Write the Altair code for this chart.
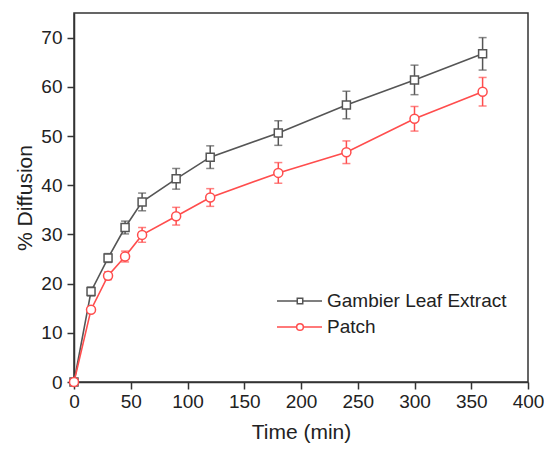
import altair as alt
import pandas as pd

time_min = [0, 15, 30, 45, 60, 90, 120, 180, 240, 300, 360]
gambier = [0, 18.4, 25.2, 31.4, 36.6, 41.3, 45.7, 50.6, 56.3, 61.4, 66.7]
gambier_err = [0, 0.9, 0.9, 1.3, 1.8, 2.1, 2.3, 2.5, 2.8, 3.0, 3.3]
patch = [0, 14.7, 21.6, 25.5, 29.9, 33.7, 37.5, 42.5, 46.7, 53.5, 59.0]
patch_err = [0, 0.5, 0.8, 1.1, 1.5, 1.8, 1.8, 2.1, 2.3, 2.5, 2.9]

series_names = ["Gambier Leaf Extract", "Patch"]
colors = ["#555555", "#ff4d4d"]
shapes = ["square", "circle"]

rows = []
for name, vals, errs in [(series_names[0], gambier, gambier_err), (series_names[1], patch, patch_err)]:
    for t, v, e in zip(time_min, vals, errs):
        rows.append({"time": t, "value": v, "lo": v - e, "hi": v + e, "series": name})
df = pd.DataFrame(rows)

FONT = "Liberation Sans"

x = alt.X("time:Q", scale=alt.Scale(domain=[0, 400], nice=False),
          axis=alt.Axis(title="Time (min)", values=list(range(0, 401, 25)),
                        labelExpr="datum.value % 50 === 0 ? datum.label : ''",
                        tickSize={"condition": {"test": "datum.value % 50 === 0", "value": 7}, "value": 4},
                        grid=False, labelFontSize=19, titleFontSize=21, labelPadding=3,
                        titlePadding=10, labelFlush=False, labelOverlap=False))
y = alt.Y("value:Q", scale=alt.Scale(domain=[0, 75], nice=False),
          axis=alt.Axis(title="% Diffusion", values=list(range(0, 71, 5)),
                        labelExpr="datum.value % 10 === 0 ? datum.label : ''",
                        tickSize={"condition": {"test": "datum.value % 10 === 0", "value": 7}, "value": 4},
                        grid=False, labelFontSize=19, titleFontSize=21, labelPadding=5,
                        titlePadding=5, labelFlush=False, labelOverlap=False))

color = alt.Color("series:N", scale=alt.Scale(domain=series_names, range=colors), legend=None)
shape = alt.Shape("series:N", scale=alt.Scale(domain=series_names, range=shapes), legend=None)
msize = alt.Size("series:N", scale=alt.Scale(domain=series_names, range=[64, 81]), legend=None)

base = alt.Chart(df)

lines = base.mark_line(strokeWidth=1.6).encode(x=x, y=y, color=color)
err_rule = base.mark_rule(strokeWidth=1.5).encode(x="time:Q", y="lo:Q", y2="hi:Q", color=color)
cap_hi = base.mark_tick(orient="horizontal", size=8, thickness=1.5).encode(x="time:Q", y="hi:Q", color=color)
cap_lo = base.mark_tick(orient="horizontal", size=8, thickness=1.5).encode(x="time:Q", y="lo:Q", color=color)
points = base.mark_point(filled=True, fill="white", strokeWidth=1.5, opacity=1).encode(
    x="time:Q", y="value:Q", stroke=alt.Stroke("series:N", scale=alt.Scale(domain=series_names, range=colors), legend=None),
    shape=shape, size=msize)

legend_sizes = [30, 45]
legend_layers = []
for i, name in enumerate(series_names):
    ly = 288 + i * 26
    ldf = pd.DataFrame({"label": [name]})
    lb = alt.Chart(ldf)
    legend_layers.append(lb.mark_rule(strokeWidth=1.6, color=colors[i]).encode(
        x=alt.value(203), x2=alt.value(248), y=alt.value(ly)))
    legend_layers.append(lb.mark_point(shape=shapes[i], filled=True, fill="white", stroke=colors[i],
                                       strokeWidth=1.5, opacity=1, size=legend_sizes[i]).encode(
        x=alt.value(226), y=alt.value(ly)))
    legend_layers.append(lb.mark_text(align="left", baseline="middle", fontSize=19, font=FONT, color="#222222").encode(
        x=alt.value(253), y=alt.value(ly), text="label:N"))

chart = alt.layer(lines, err_rule, cap_hi, cap_lo, points, *legend_layers).properties(
    width=454, height=369,
    padding={"left": 66, "top": 5, "right": 16, "bottom": 64},
    autosize=alt.AutoSizeParams(type="none"),
).configure_view(stroke="#333333", strokeWidth=1.5).configure_axis(
    domainColor="#333333", domainWidth=1.5, tickColor="#333333", tickWidth=1.5,
    labelColor="#222222", titleColor="#222222", labelFont=FONT, titleFont=FONT,
    titleFontWeight="normal",
)

chart.save("out.html", embed_options={"renderer": "svg", "actions": False})
